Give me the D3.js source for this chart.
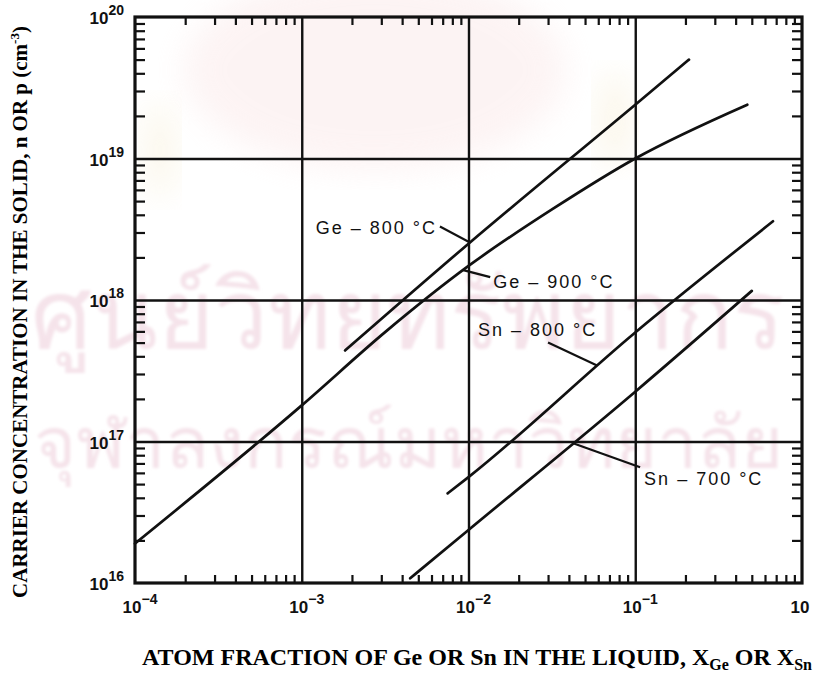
<!DOCTYPE html>
<html>
<head>
<meta charset="utf-8">
<script src="https://cdn.jsdelivr.net/npm/d3@7/dist/d3.min.js"></script>
<style>
  html, body { margin: 0; padding: 0; background: #fff; }
  svg { display: block; }
</style>
</head>
<body>
<svg id="chart" width="817" height="677"></svg>
<script>
// Carrier concentration vs. liquid atom fraction (log–log)
const decadesX = [1e-4, 1e-3, 1e-2, 1e-1, 1];
const decadeLabelsX = [["10", "−4"], ["10", "−3"], ["10", "−2"], ["10", "−1"], ["10", ""]];
const decadesY = [1e16, 1e17, 1e18, 1e19, 1e20];
const decadeLabelsY = [["10", "16"], ["10", "17"], ["10", "18"], ["10", "19"], ["10", "20"]];

// Ge at 800 °C
const ge800X = [1.82e-3, 1e-2, 0.1, 0.21];
const ge800Y = [4.4e17, 2.5e18, 2.4e19, 5.0e19];
// Ge at 900 °C (bends over at high fraction)
const ge900X = [1e-4, 1e-3, 0.0032, 1e-2, 0.032, 0.1, 0.47];
const ge900Y = [1.9e16, 1.8e17, 6.0e17, 1.74e18, 4.4e18, 1.0e19, 2.4e19];
// Sn at 800 °C
const sn800X = [7.5e-3, 1e-2, 0.1, 0.67];
const sn800Y = [4.3e16, 5.6e16, 5.9e17, 3.6e18];
// Sn at 700 °C
const sn700X = [4.47e-3, 1e-2, 0.1, 0.5];
const sn700Y = [1.08e16, 2.37e16, 2.25e17, 1.16e18];

const seriesNames = ["Ge – 800 °C", "Ge – 900 °C", "Sn – 800 °C", "Sn – 700 °C"];
// x value on each curve where its label's leader line touches
const leaderAtX = [0.0102, 0.0093, 0.059, 0.0424];

const svg = d3.select("#chart");
const W = 817, H = 677;
const m = { left: 135, right: 15, top: 17, bottom: 94 };
const iw = W - m.left - m.right, ih = H - m.top - m.bottom;

// faint background watermark
const defs = svg.append("defs");
defs.append("filter").attr("id", "soft").append("feGaussianBlur").attr("stdDeviation", 16);
defs.append("filter").attr("id", "soft2").append("feGaussianBlur").attr("stdDeviation", 1.5);
const wm = svg.append("g");
wm.append("ellipse").attr("cx", 375).attr("cy", 70).attr("rx", 190).attr("ry", 100)
  .attr("fill", "#fae6e6").attr("opacity", 0.45).attr("filter", "url(#soft)");
wm.append("ellipse").attr("cx", 615).attr("cy", 120).attr("rx", 20).attr("ry", 50)
  .attr("fill", "#f8f0da").attr("opacity", 0.5).attr("filter", "url(#soft)");
wm.append("ellipse").attr("cx", 160).attr("cy", 150).attr("rx", 18).attr("ry", 50)
  .attr("fill", "#f8f0da").attr("opacity", 0.5).attr("filter", "url(#soft)");
wm.append("text").attr("x", 408).attr("y", 348).attr("text-anchor", "middle")
  .attr("font-family", "Noto Sans, DejaVu Sans, sans-serif").attr("font-size", 96)
  .attr("fill", "#f5e3ea").attr("filter", "url(#soft2)")
  .text("ศูนย์วิทยทรัพยากร");
wm.append("text").attr("x", 408).attr("y", 468).attr("text-anchor", "middle")
  .attr("font-family", "Noto Sans, DejaVu Sans, sans-serif").attr("font-size", 72)
  .attr("fill", "#f5e3ea").attr("filter", "url(#soft2)")
  .text("จุฬาลงกรณ์มหาวิทยาลัย");

const g = svg.append("g").attr("transform", `translate(${m.left},${m.top})`);

const x = d3.scaleLog().domain([1e-4, 1]).range([0, iw]);
const y = d3.scaleLog().domain([1e16, 1e20]).range([ih, 0]);

// minor tick values 2..9 in every decade
const minorX = [], minorY = [];
for (let e = -4; e < 0; e++) for (let k = 2; k <= 9; k++) minorX.push(k * Math.pow(10, e));
for (let e = 16; e < 20; e++) for (let k = 2; k <= 9; k++) minorY.push(k * Math.pow(10, e));

function styleAxis(sel, w) {
  sel.select(".domain").remove();
  sel.selectAll(".tick line").attr("stroke", "#111").attr("stroke-width", w);
  sel.selectAll(".tick text").remove();
}

// decade gridlines
g.append("g").call(d3.axisBottom(x).tickValues(decadesX.slice(1, 4)).tickSize(ih).tickFormat(""))
  .call(s => styleAxis(s, 2.4));
g.append("g").call(d3.axisLeft(y).tickValues(decadesY.slice(1, 4)).tickSize(-iw).tickFormat(""))
  .call(s => styleAxis(s, 2.4));

// inward minor ticks on all four sides
g.append("g").attr("transform", `translate(0,${ih})`)
  .call(d3.axisBottom(x).tickValues(minorX).tickSize(-8).tickFormat("")).call(s => styleAxis(s, 2.2));
g.append("g").call(d3.axisTop(x).tickValues(minorX).tickSize(-8).tickFormat("")).call(s => styleAxis(s, 2.2));
g.append("g").call(d3.axisLeft(y).tickValues(minorY).tickSize(-10).tickFormat("")).call(s => styleAxis(s, 2.2));
g.append("g").attr("transform", `translate(${iw},0)`)
  .call(d3.axisRight(y).tickValues(minorY).tickSize(-10).tickFormat("")).call(s => styleAxis(s, 2.2));

// frame
g.append("rect").attr("x", 0).attr("y", 0).attr("width", iw).attr("height", ih)
  .attr("fill", "none").attr("stroke", "#111").attr("stroke-width", 3.2);

// curves
const line = d3.line().x(d => x(d[0])).y(d => y(d[1])).curve(d3.curveMonotoneX);
const series = [
  d3.zip(ge800X, ge800Y),
  d3.zip(ge900X, ge900Y),
  d3.zip(sn800X, sn800Y),
  d3.zip(sn700X, sn700Y)
];
g.selectAll("path.curve").data(series).join("path")
  .attr("class", "curve")
  .attr("d", line)
  .attr("fill", "none").attr("stroke", "#111").attr("stroke-width", 2.7)
  .attr("stroke-linecap", "round");

// value on a curve (straight in log-log between points)
function valueAt(xs, ys, xv) {
  const lx = xs.map(Math.log10), ly = ys.map(Math.log10), u = Math.log10(xv);
  let i = 0;
  while (i < lx.length - 2 && u > lx[i + 1]) i++;
  const t = (u - lx[i]) / (lx[i + 1] - lx[i]);
  return Math.pow(10, ly[i] + t * (ly[i + 1] - ly[i]));
}

// labels with leader lines (offsets in px from the touching point)
const xsAll = [ge800X, ge900X, sn800X, sn700X], ysAll = [ge800Y, ge900Y, sn800Y, sn700Y];
const leaderLayout = [
  { lead: [-30, -16], text: [-33, -8], anchor: "end" },
  { lead: [27, 7], text: [30, 18], anchor: "start" },
  { lead: [-49, -23], text: [-119, -30], anchor: "start" },
  { lead: [67, 24], text: [71, 42], anchor: "start" }
];
seriesNames.forEach((name, i) => {
  const tx = x(leaderAtX[i]), ty = y(valueAt(xsAll[i], ysAll[i], leaderAtX[i]));
  const L = leaderLayout[i];
  g.append("line").attr("x1", tx).attr("y1", ty)
    .attr("x2", tx + L.lead[0]).attr("y2", ty + L.lead[1])
    .attr("stroke", "#111").attr("stroke-width", 2.2);
  g.append("text").attr("x", tx + L.text[0]).attr("y", ty + L.text[1])
    .attr("text-anchor", L.anchor)
    .attr("font-family", "Liberation Sans, Arial, sans-serif").attr("font-size", 18)
    .attr("letter-spacing", 2).attr("fill", "#111")
    .text(name);
});

// decade labels
const tickFont = "Liberation Sans, Arial, sans-serif";
decadesX.forEach((v, i) => {
  const t = g.append("text").attr("x", x(v) + (i === 4 ? -2 : 5)).attr("y", ih + 30)
    .attr("text-anchor", "middle").attr("font-family", tickFont)
    .attr("font-size", 17).attr("font-weight", "bold").attr("fill", "#111");
  t.append("tspan").text(decadeLabelsX[i][0]);
  if (decadeLabelsX[i][1]) t.append("tspan").attr("dy", -9).attr("font-size", 14).text(decadeLabelsX[i][1]);
});
decadesY.forEach((v, i) => {
  const t = g.append("text").attr("x", -11).attr("y", y(v) + 7)
    .attr("text-anchor", "end").attr("font-family", tickFont)
    .attr("font-size", 17).attr("font-weight", "bold").attr("fill", "#111");
  t.append("tspan").text(decadeLabelsY[i][0]);
  t.append("tspan").attr("dy", -9).attr("font-size", 14).text(decadeLabelsY[i][1]);
});

// axis titles
const titleFont = "Liberation Serif, Times New Roman, serif";
const xt = svg.append("text").attr("x", 477).attr("y", 665).attr("text-anchor", "middle")
  .attr("font-family", titleFont).attr("font-size", 24).attr("font-weight", "bold").attr("fill", "#000");
xt.append("tspan").text("ATOM FRACTION OF Ge OR Sn IN THE LIQUID, X");
xt.append("tspan").attr("dy", 5).attr("font-size", 16).text("Ge");
xt.append("tspan").attr("dy", -5).text(" OR X");
xt.append("tspan").attr("dy", 5).attr("font-size", 16).text("Sn");

const yt = svg.append("text").attr("transform", "translate(27,312) rotate(-90)")
  .attr("text-anchor", "middle")
  .attr("font-family", titleFont).attr("font-size", 21).attr("font-weight", "bold").attr("fill", "#000");
yt.append("tspan").text("CARRIER CONCENTRATION IN THE SOLID, n OR p (cm");
yt.append("tspan").attr("dy", -8).attr("font-size", 13).text("-3");
yt.append("tspan").attr("dy", 8).text(")");
</script>
</body>
</html>
